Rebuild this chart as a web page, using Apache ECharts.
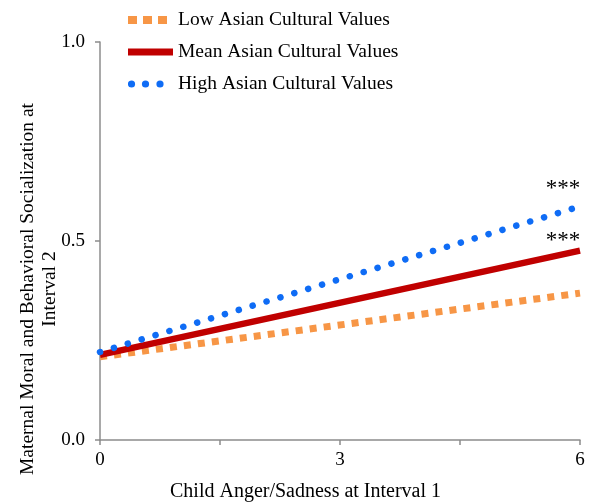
<!DOCTYPE html>
<html>
<head>
<meta charset="utf-8">
<script src="https://cdn.jsdelivr.net/npm/echarts@6/dist/echarts.min.js"></script>
<style>html,body{margin:0;padding:0;background:#fff}#main{width:590px;height:503px}</style>
</head>
<body>
<div id="main"></div>
<script>
// 数据
var xVals = [0, 6];
var lowVals = [0.209, 0.369];
var meanVals = [0.214, 0.476];
var highVals = [0.221, 0.587];
var seriesNames = ['Low Asian Cultural Values', 'Mean Asian Cultural Values', 'High Asian Cultural Values'];
var xLabels = [0, 3, 6];
var sigLabel = '***';
var xTitle = 'Child Anger/Sadness at Interval 1';
var yTitle = 'Maternal Moral and Behavioral Socialization at\nInterval 2';

function pairs(vals){
    var out = [];
    for (var i = 0; i < xVals.length; i++) out.push([xVals[i], vals[i]]);
    return out;
}
// 图例图标
function svgIcon(body){
    return 'image://data:image/svg+xml;charset=utf-8,' + encodeURIComponent(
        '<svg xmlns="http://www.w3.org/2000/svg" width="45" height="8" viewBox="0 0 45 8">' + body + '</svg>');
}
var orange = '#F79646', red = '#C00000', blue = '#0F6CF5';
var icons = [
    svgIcon('<rect x="0" y="0" width="9" height="8" fill="' + orange + '"/><rect x="15" y="0" width="9" height="8" fill="' + orange + '"/><rect x="30" y="0" width="9" height="8" fill="' + orange + '"/>'),
    svgIcon('<rect x="0" y="0.5" width="45" height="7" fill="' + red + '"/>'),
    svgIcon('<circle cx="3.5" cy="4" r="3.6" fill="' + blue + '"/><circle cx="17.5" cy="4" r="3.6" fill="' + blue + '"/><circle cx="32" cy="4" r="3.6" fill="' + blue + '"/>')
];

var chart = echarts.init(document.getElementById('main'));
var font = '"Liberation Serif", "Times New Roman", serif';
var axisGrey = '#8c8c8c';

chart.setOption({
    animation: false,
    textStyle: {fontFamily: font},
    grid: {left: 100, right: 10, top: 42, bottom: 63},
    legend: {
        orient: 'vertical',
        left: 123,
        top: 5,
        itemGap: 12,
        itemWidth: 45,
        itemHeight: 8,
        textStyle: {fontFamily: font, fontSize: 19.5, color: '#000'},
        data: seriesNames.map(function(n, i){ return {name: n, icon: icons[i]}; })
    },
    graphic: [
        {
            type: 'text', left: 320 - 150, top: 482,
            style: {text: xTitle, font: '20px ' + font, fill: '#000', width: 300, align: 'center'}
        },
        {
            type: 'text', x: 39, y: 289, rotation: Math.PI / 2,
            style: {text: yTitle, font: '19.5px ' + font, fill: '#000', align: 'center', verticalAlign: 'middle', lineHeight: 22}
        }
    ],
    xAxis: {
        type: 'value',
        min: 0, max: 6, interval: 1.5,
        axisLine: {lineStyle: {color: axisGrey, width: 1.5}},
        axisTick: {length: 5, lineStyle: {color: axisGrey, width: 1.5}},
        splitLine: {show: false},
        axisLabel: {
            fontFamily: font, fontSize: 19, color: '#000', margin: 11,
            formatter: function(v){ return xLabels.indexOf(v) >= 0 ? String(v) : ''; }
        }
    },
    yAxis: {
        type: 'value',
        min: 0, max: 1, interval: 0.5,
        axisLine: {show: true, lineStyle: {color: axisGrey, width: 1.5}},
        axisTick: {show: true, length: 5, lineStyle: {color: axisGrey, width: 1.5}},
        splitLine: {show: false},
        axisLabel: {
            fontFamily: font, fontSize: 19, color: '#000', margin: 15,
            formatter: function(v){ return v.toFixed(1); }
        }
    },
    series: [
        {
            name: seriesNames[0], type: 'line', symbol: 'none',
            data: pairs(lowVals),
            lineStyle: {color: orange, width: 7, type: [7, 7.1]},
            itemStyle: {color: orange},
            z: 2
        },
        {
            name: seriesNames[1], type: 'line', symbol: 'none',
            data: pairs(meanVals),
            lineStyle: {color: red, width: 6.5},
            itemStyle: {color: red},
            markPoint: {
                symbol: 'circle', symbolSize: 1,
                itemStyle: {color: 'rgba(0,0,0,0)'},
                label: {show: true, formatter: sigLabel, color: '#000', fontFamily: font, fontSize: 23, offset: [-17, -10]},
                data: [{coord: [xVals[1], meanVals[1]]}]
            },
            z: 3
        },
        {
            name: seriesNames[2], type: 'line', symbol: 'none',
            data: pairs(highVals),
            lineStyle: {color: blue, width: 6.5, type: [0.1, 14.4], cap: 'round'},
            itemStyle: {color: blue},
            markPoint: {
                symbol: 'circle', symbolSize: 1,
                itemStyle: {color: 'rgba(0,0,0,0)'},
                label: {show: true, formatter: sigLabel, color: '#000', fontFamily: font, fontSize: 23, offset: [-17, -17]},
                data: [{coord: [xVals[1], highVals[1]]}]
            },
            z: 4
        }
    ]
});
</script>
</body>
</html>
